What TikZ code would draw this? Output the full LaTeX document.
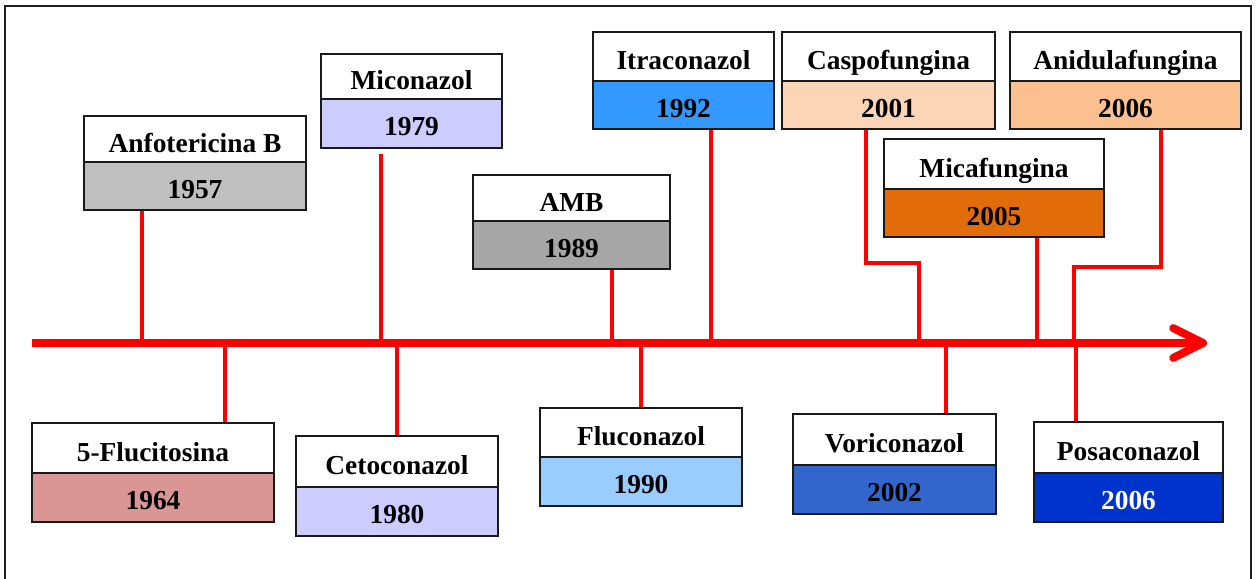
\documentclass[tikz,border=0pt]{standalone}
\usepackage{fontspec}
\setmainfont{Liberation Serif}
\usepackage{xcolor}
\usetikzlibrary{arrows.meta}
\definecolor{anfgray}{RGB}{192,192,192}
\definecolor{ambgray}{RGB}{166,166,166}
\definecolor{azollav}{RGB}{204,204,255}
\definecolor{itrablue}{RGB}{51,153,255}
\definecolor{flucoblue}{RGB}{153,204,255}
\definecolor{voriblue}{RGB}{51,102,204}
\definecolor{posablue}{RGB}{0,51,204}
\definecolor{caspopeach}{RGB}{251,213,181}
\definecolor{anidpeach}{RGB}{250,192,144}
\definecolor{micaorange}{RGB}{227,108,10}
\definecolor{flucirose}{RGB}{217,150,148}
\definecolor{framegray}{RGB}{30,30,30}
\tikzset{
  namecell/.style={draw=black!90, line width=1.1pt, fill=white, inner sep=0pt,
    text height=15pt, text depth=0pt,
    font=\bfseries\fontsize{15.6}{18}\selectfont},
  yearcell/.style={namecell, text height=14pt},
  link/.style={red, line width=1.9pt},
  timeaxis/.style={red, line width=4.5pt, -{Straight Barb[length=17pt, width=17pt, round]}}
}
% #1 name, #2 left, #3 right, #4 top, #5 middle, #6 bottom, #7 year cell fill, #8 drug, #9 year
\newcommand{\drugbox}[9]{%
  \node[namecell, minimum width={(#3-#2)*0.2mm}, minimum height={(#5-#4)*0.2mm}]
    (#1-n) at ({(#2+#3)/2},{(#4+#5)/2}) {#8};
  \node[yearcell, #7, minimum width={(#3-#2)*0.2mm}, minimum height={(#6-#5)*0.2mm}]
    (#1-y) at ({(#2+#3)/2},{(#5+#6)/2}) {#9};
}

\begin{document}
\begin{tikzpicture}[x=0.02cm, y=-0.02cm]
  \useasboundingbox (0,0) rectangle (1257,578);
  \clip (0,0) rectangle (1257,578);
  % Frame
  \draw[framegray, line width=1.4pt] (5,6) rectangle (1251,600);
  % Time axis
  \coordinate (ax-start) at (32,343);
  \coordinate (ax-end) at (1207,343);
  \draw[timeaxis] (ax-start) -- (ax-end);
  % Drugs above the axis
  \drugbox{anf}{84}{306}{116}{162}{210}{fill=anfgray}{Anfotericina B}{1957}
  \drugbox{mic}{321}{502}{54}{99}{148}{fill=azollav}{Miconazol}{1979}
  \drugbox{amb}{473}{670}{175}{221}{269}{fill=ambgray}{AMB}{1989}
  \drugbox{itra}{593}{774}{32}{81}{129}{fill=itrablue}{Itraconazol}{1992}
  \drugbox{caspo}{782}{995}{32}{81}{129}{fill=caspopeach}{Caspofungina}{2001}
  \drugbox{anid}{1010}{1241}{32}{81}{129}{fill=anidpeach}{Anidulafungina}{2006}
  \drugbox{mica}{884}{1104}{139}{189}{237}{fill=micaorange}{Micafungina}{2005}
  % Drugs below the axis
  \drugbox{fluci}{32}{274}{423}{473}{522}{fill=flucirose}{5-Flucitosina}{1964}
  \drugbox{keto}{296}{498}{436}{487}{536}{fill=azollav}{Cetoconazol}{1980}
  \drugbox{fluco}{540}{742}{408}{457}{506}{fill=flucoblue}{Fluconazol}{1990}
  \drugbox{vori}{793}{996}{414}{465}{514}{fill=voriblue}{Voriconazol}{2002}
  \drugbox{posa}{1034}{1223}{422}{473}{522}{fill=posablue, text=white}{Posaconazol}{2006}
  % Points on the axis
  \coordinate (anf-t) at (142,343);
  \coordinate (mic-t) at (381,343);
  \coordinate (amb-t) at (612,343);
  \coordinate (itra-t) at (711,343);
  \coordinate (caspo-k) at (866,263);
  \coordinate (caspo-t) at (919,343);
  \coordinate (mica-t) at (1037,343);
  \coordinate (anid-k) at (1161,267);
  \coordinate (anid-t) at (1074,343);
  \coordinate (fluci-t) at (225,343);
  \coordinate (keto-t) at (397,343);
  \coordinate (fluco-t) at (641,343);
  \coordinate (vori-t) at (946,343);
  \coordinate (posa-t) at (1076,343);
  % Connectors
  \draw[link] (anf-t |- anf-y.south) -- (anf-t);
  \draw[link, shorten <=2.8pt] (mic-t |- mic-y.south) -- (mic-t);
  \draw[link] (amb-t |- amb-y.south) -- (amb-t);
  \draw[link] (itra-t |- itra-y.south) -- (itra-t);
  \draw[link] (caspo-k |- caspo-y.south) -- (caspo-k) -| (caspo-t);
  \draw[link] (mica-t |- mica-y.south) -- (mica-t);
  \draw[link] (anid-k |- anid-y.south) -- (anid-k) -| (anid-t);
  \draw[link] (fluci-t) -- (fluci-t |- fluci-n.north);
  \draw[link] (keto-t) -- (keto-t |- keto-n.north);
  \draw[link] (fluco-t) -- (fluco-t |- fluco-n.north);
  \draw[link] (vori-t) -- (vori-t |- vori-n.north);
  \draw[link] (posa-t) -- (posa-t |- posa-n.north);
\end{tikzpicture}
\end{document}
